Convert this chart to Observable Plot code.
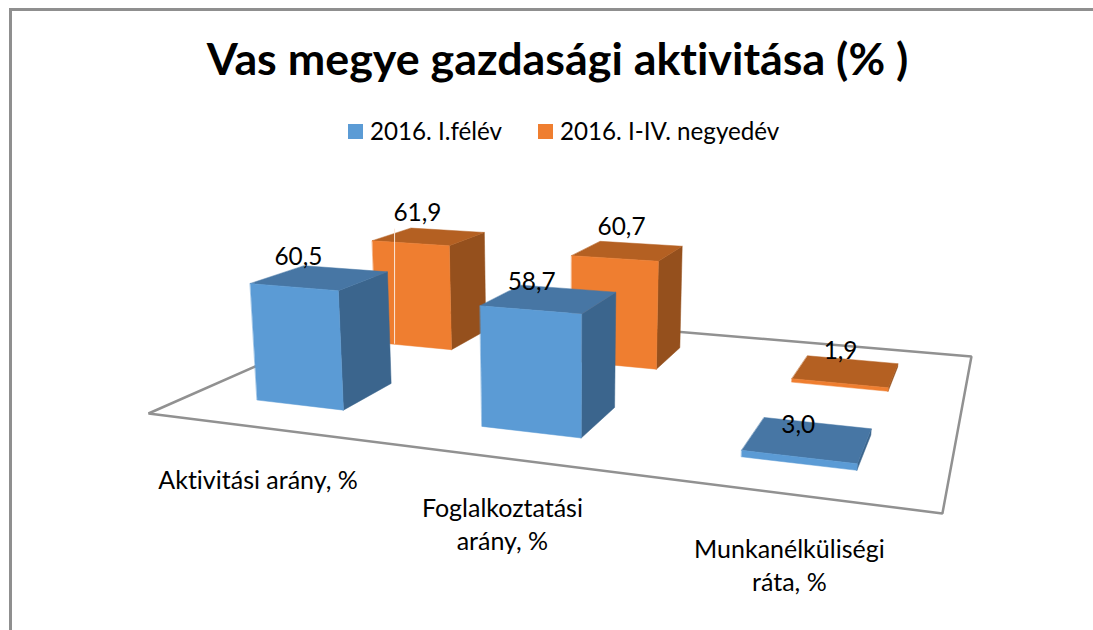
<!DOCTYPE html>
<html lang="hu">
<head>
<meta charset="utf-8">
<script src="https://cdn.jsdelivr.net/npm/d3@7"></script>
<script src="https://cdn.jsdelivr.net/npm/@observablehq/plot@0.6"></script>
<style>
  html, body { margin: 0; padding: 0; background: #fff; }
  #chart { position: relative; width: 1093px; height: 630px; overflow: hidden; font-family: Lato, "Open Sans", sans-serif; color: #000; font-variant-ligatures: none; }
  #frame { position: absolute; left: 9px; top: 8px; right: -10px; bottom: -10px; border-left: 3px solid #8f8f8f; border-top: 3px solid #8f8f8f; }
  #title { position: absolute; left: 157px; top: 31px; width: 801px; text-align: center; white-space: nowrap; font-weight: 700; font-size: 44.8px; line-height: 54px; }
  .swatch { position: absolute; top: 124px; width: 15px; height: 15px; }
  .legend { position: absolute; top: 116px; font-size: 24.2px; line-height: 30px; white-space: nowrap; }
  #plot { position: absolute; left: 0; top: 165px; }
  #plot svg { display: block; background: transparent; font-variant-ligatures: none; }
</style>
</head>
<body>
<div id="chart">
  <div id="frame"></div>
  <div id="title"></div>
  <div id="plot"></div>
</div>
<script>
// ---- data ----
const titleText = "Vas megye gazdasági aktivitása (% )";
const categories = ["Aktivitási arány, %", "Foglalkoztatási\narány, %", "Munkanélküliségi\nráta, %"];
const seriesNames = ["2016. I.félév", "2016. I-IV. negyedév"];
const felev = [60.5, 58.7, 3.0];
const negyedev = [61.9, 60.7, 1.9];
const seriesValues = [felev, negyedev];

// ---- styles ----
const frontColors = ["#5b9bd5", "#ef7e30"];
const topColors = ["#4776a4", "#b46022"];
const sideColors = ["#3b658d", "#95501d"];
const legendLeft = [[348, 370], [538, 560]];

// ---- perspective of the 3-D chart: floor (u, v) in 0..1, height in value units ----
const H = [[598.1, 386.7, 148], [-6.7, 9.0, 413], [-0.2079, 0.3746, 1]];
const VP = [560, 5500, 1], K = -0.000382;
function project(u, v, z) {
  const m = z * K;
  const w = H[2][0] * u + H[2][1] * v + H[2][2] + m * VP[2];
  return {
    x: (H[0][0] * u + H[0][1] * v + H[0][2] + m * VP[0]) / w,
    y: (H[1][0] * u + H[1][1] * v + H[1][2] + m * VP[1]) / w
  };
}
const slotU = (c, f) => (c + f) / categories.length;
const slotV = (s, f) => (s + f) / seriesNames.length;

// ---- tables built from the arrays ----
const faces = [];
function addFace(id, color, corners) {
  corners.forEach(([u, v, z]) => faces.push({id, color, ...project(u, v, z)}));
}
[1, 0].forEach(s => categories.forEach((_, c) => {
  const val = seriesValues[s][c];
  const u0 = slotU(c, 0.3), u1 = slotU(c, 0.7), v0 = slotV(s, 0.3), v1 = slotV(s, 0.7);
  addFace(`side-${s}-${c}`, sideColors[s], [[u1, v0, 0], [u1, v1, 0], [u1, v1, val], [u1, v0, val]]);
  addFace(`top-${s}-${c}`, topColors[s], [[u0, v0, val], [u1, v0, val], [u1, v1, val], [u0, v1, val]]);
  addFace(`front-${s}-${c}`, frontColors[s], [[u0, v0, 0], [u1, v0, 0], [u1, v0, val], [u0, v0, val]]);
}));
const floor = [[0, 0], [1, 0], [1, 1], [0, 1]].map(([u, v]) => project(u, v, 0));

const labelNudge = [[[-22, -20], [-18, -17], [-10, -14]], [[-12, -23], [-6.5, -24], [-5.5, -20]]];
const valueLabels = seriesValues.flatMap((vals, s) => vals.map((val, c) => {
  const p = project(slotU(c, 0.5), slotV(s, 0.5), val);
  return {x: p.x + labelNudge[s][c][0], y: p.y + labelNudge[s][c][1], text: val.toFixed(1).replace(".", ",")};
}));

const catLabels = categories.map((text, c) => ({...project(slotU(c, 0.5), 0, 0), text}));
const catNudge = [[1, 38.5], [3, 36.5], [7, 42]];

// thin light seam visible on the first orange bar
const seamU = slotU(0, 0.4), seamBase = project(seamU, slotV(1, 0.3), 0);
const seam = [{x: seamBase.x, y1: seamBase.y, y2: project(seamU, slotV(1, 0.7), negyedev[0]).y}];

// ---- html title and legend ----
const chart = document.getElementById("chart");
document.getElementById("title").textContent = titleText;
seriesNames.forEach((name, s) => {
  const sw = document.createElement("div");
  sw.className = "swatch";
  sw.style.left = legendLeft[s][0] + "px";
  sw.style.background = frontColors[s];
  chart.appendChild(sw);
  const t = document.createElement("div");
  t.className = "legend";
  t.style.left = legendLeft[s][1] + "px";
  t.textContent = name;
  chart.appendChild(t);
});

// ---- plot ----
const top0 = 165, W = 1093, HH = 630 - top0;
const font = {fontFamily: "Lato, 'Open Sans', sans-serif", fill: "#000"};
const plot = Plot.plot({
  width: W, height: HH,
  marginTop: 0, marginRight: 0, marginBottom: 0, marginLeft: 0,
  x: {domain: [0, W], range: [0, W], axis: null},
  y: {domain: [top0, 630], range: [0, HH], axis: null},
  color: {type: "identity"},
  style: {background: "transparent"},
  marks: [
    Plot.line(floor, {x: "x", y: "y", curve: "linear-closed", stroke: "#919191", strokeWidth: 2.5, fill: "none", strokeLinejoin: "miter"}),
    Plot.line(faces, {x: "x", y: "y", z: "id", fill: "color", stroke: "color", strokeWidth: 0.5, curve: "linear-closed"}),
    Plot.ruleX(seam, {x: "x", y1: "y1", y2: "y2", stroke: "#fbe6d8", strokeWidth: 1}),
    Plot.text(valueLabels, {x: "x", y: "y", text: "text", fontSize: 24.4, ...font}),
    Plot.text(catLabels, {
      x: (d, i) => d.x + catNudge[i][0], y: (d, i) => d.y + catNudge[i][1], text: "text",
      lineAnchor: "top", lineHeight: 1.3, fontSize: 25, ...font
    })
  ]
});
document.getElementById("plot").appendChild(plot);
</script>
</body>
</html>
